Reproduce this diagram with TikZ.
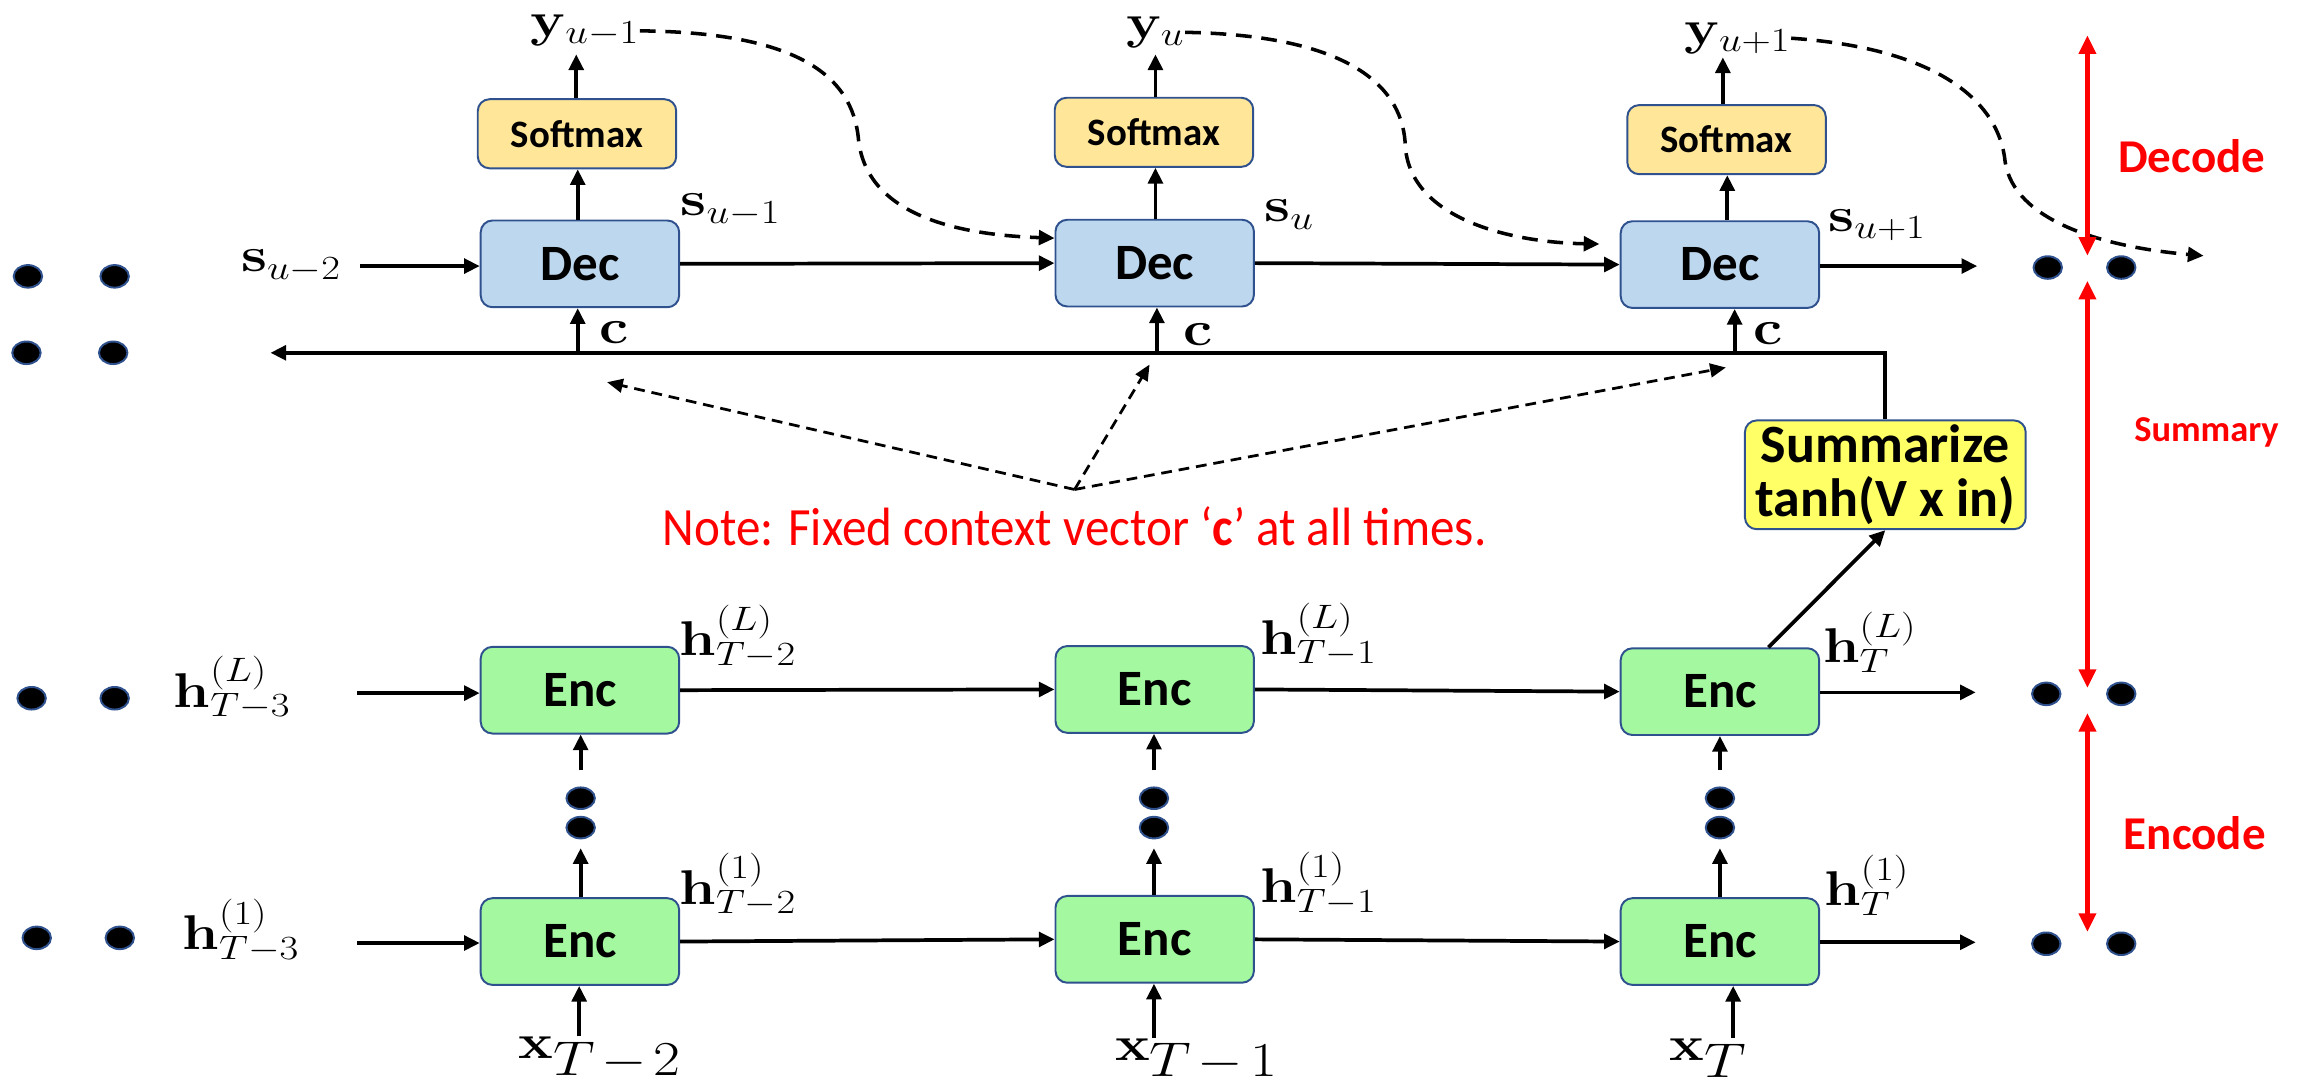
\documentclass[tikz,border=0pt]{standalone}
\usepackage[no-math]{fontspec}
\usepackage{graphicx}
\usetikzlibrary{arrows.meta,shapes.geometric}
\newfontfamily\calibri{Carlito}
\definecolor{edgeblue}{HTML}{2F528F}
\definecolor{decfill}{HTML}{BDD7EE}
\definecolor{smfill}{HTML}{FFE699}
\definecolor{encfill}{HTML}{A3F8A0}
\definecolor{sumfill}{HTML}{FFFF66}
\newcommand{\lbl}[1]{\scalebox{1.2}[1]{$#1$}}

\begin{document}
\begin{tikzpicture}[x=0.75pt,y=-0.75pt,
  box/.style={draw=edgeblue, line width=1pt, rounded corners=6pt, inner sep=0pt,
    minimum width=101.25pt, minimum height=44.25pt,
    font=\calibri\bfseries\fontsize{26}{30}\selectfont},
  decbox/.style={box, fill=decfill},
  encbox/.style={box, fill=encfill},
  smbox/.style={box, fill=smfill, minimum height=35.25pt,
    font=\calibri\bfseries\fontsize{19.8}{23}\selectfont},
  sumbox/.style={box, fill=sumfill, minimum width=143.25pt, minimum height=55.5pt,
    align=center, font=\calibri\bfseries\fontsize{27.5}{27.5}\selectfont},
  mlabel/.style={inner sep=0pt, font=\fontsize{24}{28}\selectfont},
  xlabel/.style={mlabel, font=\fontsize{23}{27}\selectfont},
  dotnode/.style={ellipse, draw=edgeblue, fill=black, line width=1pt,
    minimum width=14.5pt, minimum height=11.5pt, inner sep=0pt},
  arr/.style={line width=1.9pt, -{Triangle[length=8pt,width=7.5pt]}},
  dasharr/.style={line width=1.8pt, dash pattern=on 8pt off 5pt,
    -{Triangle[length=8pt,width=7.5pt]}},
  notearr/.style={line width=1.4pt, dash pattern=on 5.5pt off 3.5pt,
    -{Triangle[length=8pt,width=7pt]}},
  redarr/.style={red, line width=2.4pt,
    {Triangle[length=9.5pt,width=8.5pt]}-{Triangle[length=9.5pt,width=8.5pt]}},
  redtext/.style={red, inner sep=0pt, font=\calibri\bfseries\fontsize{24}{28}\selectfont}
]
\useasboundingbox (0,0) rectangle (1568,737);

% ---------- decoder row ----------
\node[decbox] (dec1) at (394.5,179.5) {Dec};
\node[decbox] (dec2) at (785.5,179) {Dec};
\node[decbox] (dec3) at (1170,180) {Dec};

\node[smbox] (sm1) at (392.5,91) {Softmax};
\node[smbox] (sm2) at (785,90) {Softmax};
\node[smbox] (sm3) at (1174.5,95) {Softmax};

\node[mlabel] (y1) at (398,21) {\lbl{\mathbf{y}_{u-1}}};
\node[mlabel] (y2) at (786,22) {\lbl{\mathbf{y}_{u}}};
\node[mlabel] (y3) at (1182,26) {\lbl{\mathbf{y}_{u+1}}};

\coordinate (y1tip) at (392,37);
\coordinate (y2tip) at (786,37);
\coordinate (y3tip) at (1172,39);
\draw[arr] (sm1.north -| y1tip) -- (y1tip);
\draw[arr] (sm2.north -| y2tip) -- (y2tip);
\draw[arr] (sm3.north -| y3tip) -- (y3tip);

\draw[arr] (dec1.north -| 393,0) -- (sm1.south -| 393,0);
\draw[arr] (dec2.north -| 786,0) -- (sm2.south -| 786,0);
\draw[arr] (dec3.north -| 1175,0) -- (sm3.south -| 1175,0);

\node[mlabel] (su2) at (198,181) {\lbl{\mathbf{s}_{u-2}}};
\node[mlabel] (su1) at (497,143) {\lbl{\mathbf{s}_{u-1}}};
\node[mlabel] (su0) at (877,146) {\lbl{\mathbf{s}_{u}}};
\node[mlabel] (sup1) at (1277,153) {\lbl{\mathbf{s}_{u+1}}};

\coordinate (sin) at (245,181);
\coordinate (sout) at (1345,181);
\draw[arr] (sin) -- (sin -| dec1.west);
\draw[arr] (dec1.east) -- (dec2.west);
\draw[arr] (dec2.east) -- (dec3.west);
\draw[arr] (dec3.east |- sout) -- (sout);

% dotted continuation, top rows
\node[dotnode] (dl1) at (19,188) {};
\node[dotnode] (dl2) at (78,188) {};
\node[dotnode] (dl3) at (18,240) {};
\node[dotnode] (dl4) at (77,240) {};
\node[dotnode] (dr1) at (1393,182) {};
\node[dotnode] (dr2) at (1443,182) {};

% feedback of outputs into next decoder step
\coordinate (fb3) at (1499,174);
\coordinate (fb2) at (1088,166);
\draw[dasharr] (y1.east) .. controls (540,22) and (580,50) .. (584,95)
  .. controls (590,150) and (660,160) .. ([yshift=12.75pt]dec2.west);
\draw[dasharr] (y2.east) .. controls (920,24) and (955,60) .. (956,100)
  .. controls (960,150) and (1030,165) .. (fb2);
\draw[dasharr] (y3.east) .. controls (1320,33) and (1360,70) .. (1364,110)
  .. controls (1370,150) and (1430,168) .. (fb3);

% ---------- context vector ----------
\node[sumbox] (sum) at (1282.5,323) {Summarize\\tanh(V x in)};
\coordinate (cl) at (184,240);
\draw[arr] (sum.north) |- (cl);

\coordinate (c1b) at (393,240);
\coordinate (c2b) at (787,240);
\coordinate (c3b) at (1180,240);
\draw[arr] (c1b) -- (c1b |- dec1.south);
\draw[arr] (c2b) -- (c2b |- dec2.south);
\draw[arr] (c3b) -- (c3b |- dec3.south);
\node[mlabel] (cc1) at (418,226) {\lbl{\mathbf{c}}};
\node[mlabel] (cc2) at (815,228) {\lbl{\mathbf{c}}};
\node[mlabel] (cc3) at (1203,227) {\lbl{\mathbf{c}}};

\coordinate (apex) at (731,333);
\coordinate (n1) at (413,260);
\coordinate (n2) at (782,248);
\coordinate (n3) at (1174,250);
\draw[notearr] (apex) -- (n1);
\draw[notearr] (apex) -- (n2);
\draw[notearr] (apex) -- (n3);

\node[red, inner sep=0pt, font=\calibri\fontsize{27.5}{31}\selectfont] (note) at (731,358)
  {\scalebox{0.91}[1]{Note: Fixed context vector ‘\textbf{c}’ at all times.}};

% ---------- encoder rows ----------
\node[encbox] (eL1) at (394.5,469.5) {Enc};
\node[encbox] (eL2) at (785.5,469) {Enc};
\node[encbox] (eL3) at (1170,470.5) {Enc};
\node[encbox] (eA1) at (394.5,640.5) {Enc};
\node[encbox] (eA2) at (785.5,639) {Enc};
\node[encbox] (eA3) at (1170,640.5) {Enc};

\draw[arr] ([xshift=24.75pt]eL3.north) -- (sum.south);

\coordinate (hLin) at (243,471.5);
\coordinate (hAin) at (243,641.5);
\coordinate (hLout) at (1344,471);
\coordinate (hAout) at (1344,641);
\draw[arr] (hLin) -- (hLin -| eL1.west);
\draw[arr] (eL1.east) -- (eL2.west);
\draw[arr] (eL2.east) -- (eL3.west);
\draw[arr] (eL3.east |- hLout) -- (hLout);
\draw[arr] (hAin) -- (hAin -| eA1.west);
\draw[arr] (eA1.east) -- (eA2.west);
\draw[arr] (eA2.east) -- (eA3.west);
\draw[arr] (eA3.east |- hAout) -- (hAout);

% layer stacks
\foreach \i/\x in {1/395,2/785,3/1170}{
  \node[dotnode, minimum height=11pt] (vu\i) at (\x,543) {};
  \node[dotnode, minimum height=11pt] (vd\i) at (\x,563) {};
  \coordinate (lo\i) at (\x,577);
  \coordinate (hi\i) at (\x,524);
  \draw[arr] (eA\i.north -| lo\i) -- (lo\i);
  \draw[arr] (hi\i) -- (hi\i |- eL\i.south);
}

\node[dotnode] (el1) at (21.5,475) {};
\node[dotnode] (el2) at (78,475) {};
\node[dotnode] (el3) at (25,638) {};
\node[dotnode] (el4) at (81.5,638) {};
\node[dotnode] (er1) at (1392,472) {};
\node[dotnode] (er2) at (1443,472) {};
\node[dotnode] (er3) at (1392,642) {};
\node[dotnode] (er4) at (1443,642) {};

\node[mlabel] (hL0) at (158,468) {\lbl{\mathbf{h}^{(L)}_{T-3}}};
\node[mlabel] (hA0) at (164,633) {\lbl{\mathbf{h}^{(1)}_{T-3}}};
\node[mlabel] (hL1) at (502,433) {\lbl{\mathbf{h}^{(L)}_{T-2}}};
\node[mlabel] (hA1) at (502,602) {\lbl{\mathbf{h}^{(1)}_{T-2}}};
\node[mlabel] (hL2) at (897,432) {\lbl{\mathbf{h}^{(L)}_{T-1}}};
\node[mlabel] (hA2) at (897,601) {\lbl{\mathbf{h}^{(1)}_{T-1}}};
\node[mlabel] (hL3) at (1272,437) {\lbl{\mathbf{h}^{(L)}_{T}}};
\node[mlabel] (hA3) at (1270,602) {\lbl{\mathbf{h}^{(1)}_{T}}};

\node[xlabel] (x1) at (408,720) {\lbl{\mathbf{x}_{\textstyle T\mkern-2mu-\mkern-2mu2}}};
\node[xlabel] (x2) at (814,721) {\lbl{\mathbf{x}_{\textstyle T\mkern-2mu-\mkern-2mu1}}};
\node[xlabel] (x3) at (1162,720) {\lbl{\mathbf{x}_{\textstyle T}}};
\coordinate (xi1) at (394,705);
\coordinate (xi2) at (785,706);
\coordinate (xi3) at (1179,706);
\draw[arr] (xi1) -- (xi1 |- eA1.south);
\draw[arr] (xi2) -- (xi2 |- eA2.south);
\draw[arr] (xi3) -- (xi3 |- eA3.south);

% ---------- phase markers ----------
\coordinate (r0) at (1420,24);
\coordinate (r1) at (1420,174);
\coordinate (r2) at (1420,191);
\coordinate (r3) at (1420,468);
\coordinate (r4) at (1420,485);
\coordinate (r5) at (1420,634);
\draw[redarr] (r0) -- (r1);
\draw[redarr] (r2) -- (r3);
\draw[redarr] (r4) -- (r5);
\node[redtext] (tdec) at (1491,106) {Decode};
\node[redtext, font=\calibri\bfseries\fontsize{18.6}{22}\selectfont] (tsum) at (1501,294) {Summary};
\node[redtext] (tenc) at (1493,567) {Encode};
\end{tikzpicture}
\end{document}
